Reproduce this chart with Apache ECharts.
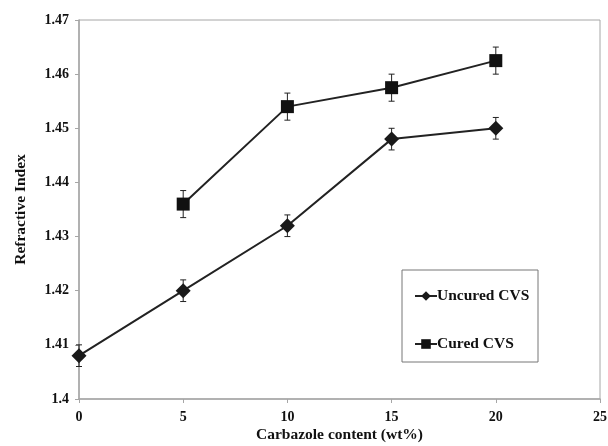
<!DOCTYPE html>
<html>
<head>
<meta charset="utf-8">
<script src="https://cdn.jsdelivr.net/npm/echarts@6/dist/echarts.min.js"></script>
<style>
  html, body { margin: 0; padding: 0; background: #fff; }
  #chart { width: 608px; height: 446px; }
</style>
</head>
<body>
<div id="chart"></div>
<script>
// Carbazole content (wt%) on x, refractive index on y
const uncuredX = [0, 5, 10, 15, 20];
const uncuredY = [1.408, 1.420, 1.432, 1.448, 1.450];
const uncuredErr = [0.002, 0.002, 0.002, 0.002, 0.002];

const curedX = [5, 10, 15, 20];
const curedY = [1.436, 1.454, 1.4575, 1.4625];
const curedErr = [0.0025, 0.0025, 0.0025, 0.0025];

const FONT = '"Liberation Serif", "Times New Roman", serif';
const AXIS_GRAY = '#a6a6a6';

function pairs(xs, ys) { return xs.map((x, i) => [x, ys[i]]); }
function errRows(xs, ys, es) { return xs.map((x, i) => [x, ys[i], es[i]]); }

// Vertical error bar with small caps
function renderErrorBar(params, api) {
  const x = api.value(0), y = api.value(1), e = api.value(2);
  const hi = api.coord([x, y + e]);
  const lo = api.coord([x, y - e]);
  const cap = 3;
  const style = { stroke: '#222', lineWidth: 1 };
  return {
    type: 'group',
    children: [
      { type: 'line', shape: { x1: hi[0], y1: hi[1], x2: lo[0], y2: lo[1] }, style },
      { type: 'line', shape: { x1: hi[0] - cap, y1: hi[1], x2: hi[0] + cap, y2: hi[1] }, style },
      { type: 'line', shape: { x1: lo[0] - cap, y1: lo[1], x2: lo[0] + cap, y2: lo[1] }, style }
    ]
  };
}

const chart = echarts.init(document.getElementById('chart'), null, { renderer: 'canvas' });

chart.setOption({
  animation: false,
  backgroundColor: '#fff',
  grid: {
    left: 79, right: 8, top: 20, bottom: 47,
    outerBoundsMode: 'none',
    containLabel: false,
    show: true, borderColor: AXIS_GRAY, borderWidth: 1
  },
  graphic: [{
    type: 'rect',
    shape: { x: 402, y: 270, width: 136, height: 92 },
    style: { fill: '#fff', stroke: '#777', lineWidth: 1 },
    z: 10
  }],
  legend: {
    orient: 'vertical',
    left: 409, top: 283,
    itemGap: 32,
    itemWidth: 22, itemHeight: 12,
    z: 20,
    data: ['Uncured CVS', 'Cured CVS'],
    textStyle: { fontFamily: FONT, fontWeight: 'bold', fontSize: 15.5, color: '#111', padding: [0, 0, 0, -5] }
  },
  xAxis: {
    type: 'value',
    min: 0, max: 25, interval: 5,
    name: 'Carbazole content (wt%)',
    nameLocation: 'middle', nameGap: 28,
    nameMoveOverlap: false,
    nameTextStyle: { fontFamily: FONT, fontWeight: 'bold', fontSize: 15.5, color: '#111' },
    axisLine: { lineStyle: { color: AXIS_GRAY, width: 1.5 } },
    axisTick: { show: true, length: 4, lineStyle: { color: AXIS_GRAY } },
    axisLabel: { fontFamily: FONT, fontWeight: 'bold', fontSize: 14, color: '#111', margin: 11 },
    splitLine: { show: false }
  },
  yAxis: {
    type: 'value',
    min: 1.40, max: 1.47, interval: 0.01,
    name: 'Refractive Index',
    nameLocation: 'middle', nameGap: 50, nameRotate: 90,
    nameTextStyle: { fontFamily: FONT, fontWeight: 'bold', fontSize: 15.5, color: '#111' },
    axisLine: { show: true, lineStyle: { color: AXIS_GRAY, width: 1.5 } },
    axisTick: { show: true, length: 4, lineStyle: { color: AXIS_GRAY } },
    axisLabel: {
      fontFamily: FONT, fontWeight: 'bold', fontSize: 14, color: '#111', margin: 10,
      formatter: v => String(Number(v.toFixed(2)))
    },
    splitLine: { show: false }
  },
  series: [
    {
      name: 'Uncured CVS',
      type: 'line',
      data: pairs(uncuredX, uncuredY),
      symbol: 'diamond', symbolSize: 15,
      lineStyle: { color: '#222', width: 2 },
      itemStyle: { color: '#1a1a1a' },
      z: 3
    },
    {
      name: 'Cured CVS',
      type: 'line',
      data: pairs(curedX, curedY),
      symbol: 'rect', symbolSize: 13,
      lineStyle: { color: '#222', width: 2 },
      itemStyle: { color: '#111' },
      z: 3
    },
    {
      type: 'custom',
      renderItem: renderErrorBar,
      data: errRows(uncuredX, uncuredY, uncuredErr),
      encode: { x: 0, y: 1 },
      z: 2, silent: true
    },
    {
      type: 'custom',
      renderItem: renderErrorBar,
      data: errRows(curedX, curedY, curedErr),
      encode: { x: 0, y: 1 },
      z: 2, silent: true
    }
  ]
});
</script>
</body>
</html>
